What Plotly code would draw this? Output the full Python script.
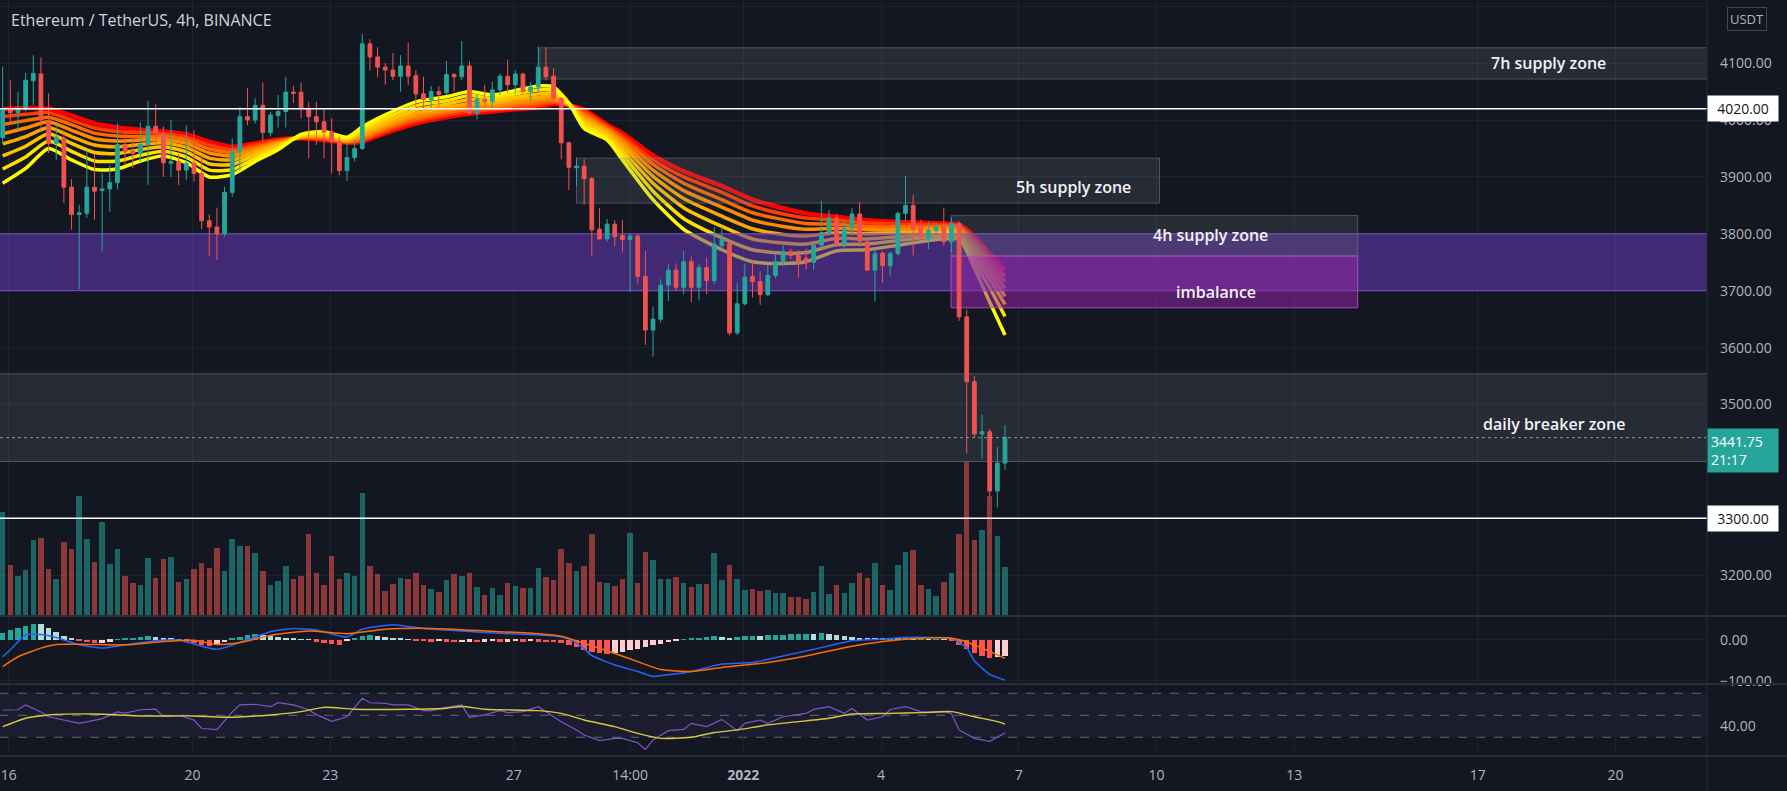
import plotly.graph_objects as go

# ---------------- data ----------------
opens = [3969, 4019, 4013, 4020, 4069, 4081, 3998, 3959, 3968, 3882,
         3834, 3836, 3882, 3876, 3879, 3890, 3957, 3946, 3941, 3957,
         3989, 3977, 3924, 3927, 3912, 3924, 3906, 3823, 3812, 3800,
         3873, 3944, 4006, 4000, 4026, 3978, 4008, 4015, 4049, 4049,
         4020, 4006, 3997, 3979, 3962, 3911, 3934, 3950, 4134, 4111,
         4093, 4088, 4077, 4095, 4078, 4046, 4036, 4050, 4048, 4080,
         4076, 4095, 4012, 4037, 4032, 4053, 4077, 4062, 4081, 4050,
         4058, 4093, 4077, 4038, 3960, 3916, 3919, 3897, 3808, 3791,
         3817, 3797, 3790, 3796, 3725, 3631, 3650, 3710, 3736, 3706,
         3751, 3706, 3741, 3718, 3779, 3783, 3626, 3677, 3725, 3716,
         3693, 3727, 3751, 3769, 3762, 3757, 3750, 3780, 3802, 3828,
         3782, 3810, 3835, 3786, 3736, 3766, 3744, 3765, 3836, 3850,
         3814, 3791, 3806, 3813, 3786, 3818, 3654, 3540, 3448, 3452,
         3348, 3397]
highs = [4094, 4070, 4050, 4083, 4114, 4110, 4047, 3991, 3982, 3896,
         3851, 3947, 3941, 3907, 3921, 3994, 3982, 3970, 3996, 4034,
         4028, 3989, 4000, 3941, 3991, 3982, 3938, 3834, 3846, 3883,
         3968, 4023, 4056, 4038, 4066, 4014, 4044, 4076, 4060, 4066,
         4032, 4032, 4018, 4003, 3971, 3959, 3965, 4151, 4142, 4128,
         4100, 4118, 4114, 4136, 4088, 4076, 4060, 4060, 4104, 4083,
         4139, 4104, 4044, 4062, 4067, 4081, 4106, 4088, 4083, 4067,
         4129, 4128, 4091, 4040, 3962, 3934, 3931, 3900, 3845, 3826,
         3824, 3824, 3801, 3800, 3770, 3672, 3720, 3748, 3748, 3770,
         3760, 3746, 3758, 3812, 3812, 3786, 3713, 3748, 3754, 3734,
         3745, 3764, 3780, 3774, 3771, 3774, 3783, 3858, 3842, 3835,
         3825, 3845, 3855, 3789, 3772, 3769, 3769, 3839, 3902, 3868,
         3825, 3822, 3820, 3846, 3829, 3822, 3667, 3550, 3482, 3457,
         3425, 3464]
lows = [3960, 3995, 3982, 4015, 4026, 3982, 3942, 3930, 3854, 3807,
        3703, 3828, 3825, 3769, 3839, 3878, 3921, 3915, 3927, 3886,
        3959, 3900, 3900, 3886, 3895, 3892, 3808, 3761, 3754, 3795,
        3865, 3912, 3991, 3994, 3962, 3971, 3987, 3987, 4030, 4003,
        3933, 3956, 3933, 3906, 3903, 3893, 3927, 3947, 4087, 4075,
        4062, 4070, 4050, 4062, 4023, 4018, 4018, 4023, 4044, 4050,
        4070, 4009, 4001, 4014, 4020, 4044, 4047, 4047, 4047, 4035,
        4050, 4070, 4030, 3931, 3877, 3884, 3851, 3760, 3790, 3786,
        3778, 3767, 3698, 3713, 3605, 3584, 3644, 3682, 3700, 3694,
        3680, 3683, 3694, 3712, 3775, 3622, 3622, 3674, 3688, 3675,
        3690, 3722, 3744, 3755, 3722, 3737, 3737, 3778, 3798, 3777,
        3772, 3797, 3777, 3736, 3681, 3714, 3727, 3762, 3822, 3762,
        3790, 3773, 3797, 3779, 3768, 3647, 3414, 3443, 3405, 3338,
        3319, 3385]
closes = [4019, 4013, 4020, 4070, 4082, 4000, 3959, 3970, 3882, 3834,
          3837, 3882, 3875, 3879, 3890, 3957, 3944, 3941, 3957, 3989,
          3977, 3925, 3927, 3912, 3924, 3906, 3823, 3812, 3800, 3873,
          3944, 4006, 4000, 4026, 3978, 4009, 4015, 4049, 4047, 4020,
          4006, 3997, 3979, 3962, 3911, 3934, 3950, 4134, 4111, 4093,
          4088, 4077, 4095, 4077, 4046, 4036, 4050, 4045, 4080, 4076,
          4095, 4012, 4037, 4032, 4053, 4077, 4062, 4081, 4050, 4058,
          4093, 4076, 4038, 3960, 3917, 3919, 3897, 3807, 3791, 3817,
          3795, 3790, 3796, 3725, 3631, 3650, 3710, 3736, 3706, 3751,
          3706, 3741, 3718, 3782, 3790, 3626, 3677, 3724, 3716, 3693,
          3727, 3751, 3769, 3762, 3750, 3750, 3780, 3802, 3828, 3782,
          3810, 3835, 3787, 3736, 3765, 3744, 3765, 3836, 3850, 3807,
          3795, 3806, 3813, 3786, 3818, 3654, 3540, 3448, 3452, 3348,
          3397, 3441.75]
volumes = [103, 50, 39, 45, 75, 77, 46, 36, 73, 66,
           119, 76, 53, 93, 51, 66, 39, 32, 30, 57,
           37, 56, 58, 33, 36, 46, 52, 47, 67, 44,
           76, 69, 69, 62, 44, 30, 34, 49, 36, 39,
           81, 42, 30, 59, 36, 42, 39, 122, 49, 41,
           24, 31, 37, 36, 42, 30, 26, 23, 35, 41,
           39, 42, 28, 20, 27, 20, 32, 29, 27, 27,
           47, 38, 35, 66, 52, 44, 49, 81, 33, 32,
           29, 36, 82, 32, 63, 55, 36, 36, 38, 32,
           28, 31, 31, 62, 35, 50, 36, 25, 26, 24,
           25, 22, 22, 18, 18, 16, 23, 49, 21, 30,
           22, 32, 42, 37, 52, 30, 25, 50, 63, 65,
           30, 26, 19, 33, 42, 81, 153, 75, 85, 119,
           79, 48]
macd_hist = [18, 24, 30, 35, 40, 38, 30, 20, 10, 3,
             -3, -6, -8, -7, -4, 2, 4, 6, 8, 9,
             8, 6, 4, 1, -4, -8, -12, -15, -12, -6,
             3, 8, 12, 14, 13, 10, 7, 5, 4, 2,
             1, -4, -8, -11, -12, -3, 6, 10, 11, 9,
             7, 5, 4, 2, -2, -3, -4, -3, -4, -6,
             -5, -4, -5, -4, -3, -4, -4, -3, -4, -3,
             -4, -5, -6, -8, -12, -18, -25, -30, -33, -34,
             -32, -29, -25, -21, -17, -13, -10, -6, -3, 2,
             4, 6, 7, 9, 8, 5, 7, 9, 10, 9,
             11, 12, 13, 14, 15, 15, 14, 16, 15, 12,
             10, 8, 6, 5, 4, 3, 4, 3, 3, 2,
             2, 1, 1, 0.5, -3, -12, -22, -32, -38, -45,
             -42, -38]
macd_idx = [0, 1, 3, 5, 7, 10, 13, 16, 20, 23, 25, 28, 31, 35, 38, 41, 45, 47, 51, 55,
            58, 63, 68, 72, 74, 75, 76, 77, 80, 83, 85, 87, 90, 94, 98, 102, 106, 111, 115, 118,
            121, 124, 126, 127, 129, 131]
macd_line = [-41, -24, 12, 13, 6, -12, -20, -12, -2, 0, -10, -23, -6, 20, 28, 24, 7, 26, 37, 28,
             24, 18, 14, 10, 2, -8, -22, -38, -61, -77, -89, -85, -77, -59, -55, -39, -23, -2, 2, 6,
             6, 4, -19, -51, -84, -98]
signal_idx = [0, 2, 5, 7, 11, 16, 21, 25, 28, 31, 35, 40, 45, 50, 56, 63, 70, 73, 76, 80,
              83, 86, 90, 94, 100, 105, 110, 115, 120, 124, 126, 129, 131]
signal_line = [-65, -41, -20, -11, -11, -12, -4, -1, -11, -6, 11, 22, 15, 26, 28, 22, 15, 9, -8, -33,
               -53, -72, -77, -67, -55, -39, -19, -4, 4, 4, -5, -28, -45]
rsi_idx = [0, 2, 3, 5, 6, 8, 10, 11, 13, 15, 16, 18, 20, 21, 23, 25, 26, 28, 30, 31,
           33, 35, 36, 38, 40, 41, 43, 45, 47, 48, 50, 51, 53, 55, 56, 58, 60, 61, 63, 65,
           66, 68, 70, 71, 73, 75, 76, 78, 80, 81, 83, 84, 85, 87, 89, 90, 92, 94, 96, 97,
           99, 100, 102, 105, 106, 108, 110, 111, 113, 115, 116, 118, 120, 121, 123, 124, 125, 127, 129, 130,
           131]
rsi_vals = [54.8, 55, 59.4, 53, 48.7, 45.7, 42.7, 44, 47, 53, 52, 55, 55.5, 49, 50, 45.7, 38, 37, 53, 59.4,
            60, 57.8, 61.4, 59.4, 55, 50.6, 44.5, 48.7, 65.4, 61.4, 60.9, 59.4, 59.4, 54.2, 54.2, 57.2, 59.4, 48.1, 50.3, 54.2,
            52.4, 53.3, 57.8, 53.3, 44.2, 36.7, 32.1, 27, 29, 29, 25, 19, 27.6, 36, 37.2, 42.7, 39.7, 46.3, 36, 42.7,
            45.7, 42.7, 48.7, 51.7, 55.3, 57.8, 51.7, 56.2, 45.7, 48.7, 55.3, 57.8, 53.3, 52.4, 53.3, 51.7, 36.7, 29, 26.3, 30,
            34]
rsi_ma_idx = [0, 3, 6, 12, 18, 25, 29, 35, 39, 42, 46, 53, 58, 60, 63, 70, 73, 76, 80, 83,
              86, 90, 93, 96, 100, 104, 108, 111, 116, 120, 124, 127, 130, 131]
rsi_ma_vals = [39.6, 47.3, 50.3, 51.2, 49.4, 49.4, 48.2, 50.3, 53.3, 57.2, 55.5, 55.5, 56.4, 58, 55.5, 54.2, 51.7, 45.7, 39.7, 33.6,
               29, 30, 34.3, 36.7, 41.3, 44.2, 47.3, 51.2, 51.7, 52.4, 53.3, 48.7, 44.2, 42]

# EMA ribbon (slow -> fast), sampled at candle indices
ribbon_idx = [0, 3, 6, 9, 12, 15, 18, 21, 24, 27, 30, 33, 36, 39, 42, 45, 47, 50, 54, 58,
              61, 64, 67, 70, 72, 74, 76, 79, 81, 85, 89, 94, 98, 102, 105, 109, 113, 117, 121, 125,
              127, 129, 131]
ema_1 = [4019, 4021, 4020, 4008, 3994, 3987, 3983, 3980, 3975, 3962, 3953, 3959, 3966, 3968, 3965, 3960, 3962, 3977, 3994, 4005,
         4011, 4015, 4019, 4022, 4028, 4026, 4018, 3992, 3977, 3938, 3910, 3884, 3860, 3845, 3836, 3830, 3824, 3821, 3819, 3816,
         3795, 3765, 3736]
ema_2 = [4006, 4010, 4013, 4000, 3986, 3980, 3978, 3976, 3970, 3956, 3948, 3956, 3964, 3969, 3967, 3961, 3965, 3980, 3998, 4009,
         4015, 4018, 4022, 4026, 4031, 4026, 4015, 3989, 3972, 3930, 3900, 3873, 3849, 3835, 3828, 3824, 3819, 3817, 3816, 3813,
         3790, 3757, 3726]
ema_3 = [3992, 3999, 4005, 3992, 3977, 3972, 3971, 3971, 3965, 3949, 3943, 3952, 3962, 3969, 3968, 3962, 3967, 3984, 4002, 4013,
         4019, 4021, 4026, 4030, 4034, 4027, 4011, 3986, 3967, 3922, 3889, 3860, 3837, 3825, 3818, 3817, 3813, 3812, 3812, 3811,
         3783, 3750, 3716]
ema_4 = [3976, 3986, 3997, 3982, 3967, 3963, 3965, 3966, 3959, 3942, 3937, 3948, 3960, 3970, 3970, 3963, 3971, 3988, 4007, 4017,
         4024, 4025, 4030, 4035, 4038, 4027, 4007, 3983, 3961, 3912, 3876, 3847, 3824, 3813, 3808, 3810, 3807, 3807, 3809, 3807,
         3777, 3741, 3704]
ema_5 = [3958, 3971, 3987, 3971, 3956, 3953, 3957, 3960, 3952, 3933, 3930, 3944, 3958, 3971, 3972, 3965, 3974, 3992, 4012, 4022,
         4029, 4029, 4035, 4040, 4042, 4028, 4002, 3979, 3955, 3901, 3862, 3831, 3809, 3799, 3796, 3802, 3800, 3802, 3804, 3804,
         3769, 3731, 3690]
ema_6 = [3937, 3954, 3976, 3959, 3943, 3941, 3948, 3953, 3944, 3923, 3922, 3939, 3955, 3972, 3974, 3966, 3978, 3997, 4018, 4028,
         4036, 4033, 4040, 4046, 4047, 4029, 3997, 3975, 3947, 3889, 3846, 3813, 3791, 3784, 3782, 3792, 3791, 3795, 3799, 3800,
         3760, 3720, 3676]
ema_7 = [3914, 3935, 3963, 3945, 3928, 3928, 3938, 3945, 3935, 3912, 3913, 3933, 3951, 3974, 3977, 3968, 3983, 4003, 4025, 4034,
         4043, 4038, 4046, 4053, 4052, 4029, 3991, 3970, 3939, 3875, 3827, 3793, 3772, 3766, 3767, 3781, 3782, 3788, 3794, 3795,
         3750, 3705, 3655]
ema_8 = [3889, 3915, 3950, 3930, 3913, 3914, 3928, 3937, 3925, 3900, 3904, 3927, 3948, 3975, 3980, 3970, 3988, 4009, 4032, 4041,
         4050, 4044, 4052, 4060, 4058, 4030, 3985, 3965, 3930, 3860, 3808, 3772, 3751, 3748, 3751, 3770, 3772, 3780, 3788, 3790,
         3740, 3680, 3622]

# drawn zones (candle index / price)
zone_names = ["range", "daily breaker zone", "7h supply zone", "5h supply zone", "4h supply zone", "imbalance"]
zone_x0 = [-2, -2, 70.2, 75.0, 123.95, 123.95]
zone_x1 = [240, 240, 240, 151.2, 177.1, 177.1]
zone_low = [3700, 3400, 4072, 3854, 3761, 3670]
zone_high = [3800, 3554, 4127, 3933, 3832, 3761]
zone_label_x = [None, 202.8, 202.0, 139.9, 157.9, 158.6]
zone_label_y = [None, 3465, 4100, 3882, 3798, 3697]

level_prices = [4020, 3300]
last_price = 3441.75
countdown = "21:17"

time_tick_pos = [0.8, 24.8, 42.8, 66.8, 82.0, 96.8, 114.8, 132.8, 150.8, 168.8, 192.8, 210.8]
time_tick_text = ["16", "20", "23", "27", "14:00", "<b>2022</b>", "4", "7", "10", "13", "17", "20"]
price_ticks = [3200, 3300, 3400, 3500, 3600, 3700, 3800, 3900, 4000, 4100, 4200]

# ---------------- styles ----------------
BG = "#131722"
GRID = "#1e222d"
TXT = "#b2b5be"
FONT = "Open Sans"
UP = "#26a69a"
DN = "#ef5350"
ribbon_colors = ["#ff0000", "#ff3d00", "#ff6a00", "#ff8c00", "#ffa800", "#ffc400", "#ffe000", "#ffff00"]
ribbon_widths = [4.5, 3.5, 3.5, 3.5, 3.5, 3.5, 3.5, 3.5]
zone_style = {
    "range": ("rgba(103,58,183,0.55)", "rgba(126,87,194,0.95)"),
    "daily breaker zone": ("rgba(120,123,134,0.2)", "rgba(140,143,154,0.45)"),
    "7h supply zone": ("rgba(120,123,134,0.2)", "rgba(140,143,154,0.45)"),
    "5h supply zone": ("rgba(120,123,134,0.2)", "rgba(140,143,154,0.45)"),
    "4h supply zone": ("rgba(120,123,134,0.2)", "rgba(140,143,154,0.45)"),
    "imbalance": ("rgba(156,39,176,0.5)", "rgba(186,80,200,0.85)"),
}

idx = list(range(len(closes)))
is_up = [c >= o for o, c in zip(opens, closes)]

fig = go.Figure()

# ribbon (base layer)
ribbon = [ema_1, ema_2, ema_3, ema_4, ema_5, ema_6, ema_7, ema_8]
for vals, col, w in zip(ribbon, ribbon_colors, ribbon_widths):
    fig.add_trace(go.Scatter(x=ribbon_idx, y=vals, mode="lines",
                             line=dict(color=col, width=w, shape="spline", smoothing=0.6),
                             xaxis="x", yaxis="y", hoverinfo="skip", showlegend=False))

# zones drawn over the ribbon
for name, x0, x1, lo, hi in zip(zone_names, zone_x0, zone_x1, zone_low, zone_high):
    fill, edge = zone_style[name]
    fig.add_trace(go.Scatter(x=[x0, x1, x1, x0, x0], y=[lo, lo, hi, hi, lo], mode="lines",
                             fill="toself", fillcolor=fill, line=dict(color=edge, width=1),
                             xaxis="x", yaxis="y", hoverinfo="skip", showlegend=False))

# volume (overlay)
vol_colors = ["rgba(38,166,154,0.55)" if u else "rgba(239,83,80,0.55)" for u in is_up]
fig.add_trace(go.Bar(x=idx, y=volumes, marker=dict(color=vol_colors, line=dict(width=0)),
                     width=0.72, xaxis="x", yaxis="y2", hoverinfo="skip", showlegend=False))

# candles (top overlay)
fig.add_trace(go.Candlestick(x=idx, open=opens, high=highs, low=lows, close=closes,
                             increasing=dict(line=dict(color=UP, width=1), fillcolor=UP),
                             decreasing=dict(line=dict(color=DN, width=1), fillcolor=DN),
                             whiskerwidth=0, xaxis="x", yaxis="y3", showlegend=False, hoverinfo="skip"))

# MACD
hist_colors = []
for i, h in enumerate(macd_hist):
    prev = macd_hist[i - 1] if i > 0 else h
    if h >= 0:
        hist_colors.append("#26a69a" if h >= prev else "#b2dfdb")
    else:
        hist_colors.append("#ff5252" if h < prev else "#ffcdd2")
fig.add_trace(go.Bar(x=idx, y=macd_hist, marker=dict(color=hist_colors, line=dict(width=0)),
                     width=0.72, xaxis="x2", yaxis="y4", hoverinfo="skip", showlegend=False))
fig.add_trace(go.Scatter(x=macd_idx, y=macd_line, mode="lines",
                         line=dict(color="#2962ff", width=1.5, shape="spline", smoothing=0.5),
                         xaxis="x2", yaxis="y4", hoverinfo="skip", showlegend=False))
fig.add_trace(go.Scatter(x=signal_idx, y=signal_line, mode="lines",
                         line=dict(color="#ff6d00", width=1.5, shape="spline", smoothing=0.5),
                         xaxis="x2", yaxis="y4", hoverinfo="skip", showlegend=False))

# RSI
fig.add_trace(go.Scatter(x=rsi_idx, y=rsi_vals, mode="lines", line=dict(color="#7e57c2", width=1.2),
                         xaxis="x3", yaxis="y5", hoverinfo="skip", showlegend=False))
fig.add_trace(go.Scatter(x=rsi_ma_idx, y=rsi_ma_vals, mode="lines",
                         line=dict(color="#d9c93f", width=1.4, shape="spline", smoothing=0.6),
                         xaxis="x3", yaxis="y5", hoverinfo="skip", showlegend=False))

XR = [-0.35, 222.75]
tickfont = dict(family=FONT, size=14, color=TXT)
xcommon = dict(range=XR, tickvals=time_tick_pos, showgrid=True, gridcolor=GRID, gridwidth=1,
               zeroline=False, showline=False, ticks="", fixedrange=True)
fig.update_layout(
    width=1787, height=791, paper_bgcolor=BG, plot_bgcolor=BG,
    margin=dict(l=0, r=80, t=0, b=35),
    showlegend=False, bargap=0, hovermode=False,
    xaxis=dict(domain=[0, 1], anchor="y", showticklabels=False, rangeslider=dict(visible=False), **xcommon),
    xaxis2=dict(domain=[0, 1], anchor="y4", matches="x", showticklabels=False, **xcommon),
    xaxis3=dict(domain=[0, 1], anchor="y5", matches="x", showticklabels=True,
                ticktext=time_tick_text, tickfont=tickfont, ticklabelstandoff=9, **xcommon),
    yaxis=dict(domain=[0.1865, 1], range=[3130, 4211], side="right", anchor="x",
               tickvals=price_ticks, ticktext=[f"{p:.2f}" for p in price_ticks], tickfont=tickfont,
               showgrid=True, gridcolor=GRID, zeroline=False, ticks="", ticklabelstandoff=12, fixedrange=True),
    yaxis2=dict(overlaying="y", anchor="x", range=[0, 615], visible=False, showgrid=False, fixedrange=True),
    yaxis3=dict(overlaying="y", anchor="x", range=[3130, 4211], visible=False, showgrid=False, fixedrange=True),
    yaxis4=dict(domain=[0.0966, 0.1839], range=[-105, 56], side="right", anchor="x2",
                tickvals=[0, -100], ticktext=["0.00", "\u2212100.00"], tickfont=tickfont,
                showgrid=True, gridcolor=GRID, zeroline=False, ticks="", ticklabelstandoff=12, fixedrange=True),
    yaxis5=dict(domain=[0, 0.0939], range=[13, 77.5], side="right", anchor="x3",
                tickvals=[40], ticktext=["40.00"], tickfont=tickfont,
                showgrid=False, zeroline=False, ticks="", ticklabelstandoff=12, fixedrange=True),
)

shapes = []
# RSI band and levels
shapes.append(dict(type="rect", xref="paper", x0=0, x1=1, yref="y5", y0=30, y1=70,
                   fillcolor="rgba(126,87,194,0.09)", line=dict(width=0), layer="below"))
for lv in [70, 50, 30]:
    shapes.append(dict(type="line", xref="paper", x0=0, x1=1, yref="y5", y0=lv, y1=lv,
                       line=dict(color="rgba(150,153,164,0.6)", width=1, dash="dash"), layer="below"))
# level lines
for p in level_prices:
    shapes.append(dict(type="line", xref="paper", x0=0, x1=1, yref="y", y0=p, y1=p,
                       line=dict(color="#ffffff", width=1.5), layer="above"))
shapes.append(dict(type="line", xref="paper", x0=0, x1=1, yref="y", y0=last_price, y1=last_price,
                   line=dict(color="rgba(170,180,185,0.75)", width=1, dash="dot"), layer="above"))
# pane separators and axis border
for yp in [(756 - 616) / 756, (756 - 684) / 756, 0]:
    shapes.append(dict(type="line", xref="paper", x0=0, x1=1787 / 1707, yref="paper", y0=yp, y1=yp,
                       line=dict(color="#2a2e39", width=2), layer="above"))
shapes.append(dict(type="line", xref="paper", x0=1, x1=1, yref="paper", y0=-35 / 756, y1=1,
                   line=dict(color="#2a2e39", width=1), layer="above"))
fig.update_layout(shapes=shapes)

ann = []
ann.append(dict(text="Ethereum / TetherUS, 4h, BINANCE", xref="paper", yref="paper", x=0, y=1,
                xanchor="left", yanchor="middle", xshift=9, yshift=-20, showarrow=False,
                font=dict(family=FONT, size=16, color="#d1d4dc")))
for name, lx, ly in zip(zone_names, zone_label_x, zone_label_y):
    if lx is None:
        continue
    ann.append(dict(text=name, x=lx, y=ly, xref="x", yref="y", showarrow=False,
                    font=dict(family=FONT, size=16, color="#f2f2f5", weight=600)))
for p in level_prices:
    ann.append(dict(text=f"{p:.2f}", xref="paper", x=1, xanchor="left", yref="y", y=p, yanchor="middle",
                    showarrow=False, bgcolor="#ffffff", width=64, align="center", borderpad=3,
                    font=dict(family=FONT, size=14, color="#131722")))
ann.append(dict(text=f"{last_price:.2f}<br>{countdown}", xref="paper", x=1, xanchor="left", yref="y",
                y=last_price, yanchor="top", yshift=10, showarrow=False, bgcolor=UP, width=64,
                align="left", borderpad=3, font=dict(family=FONT, size=14, color="#ffffff")))
ann.append(dict(text="USDT", xref="paper", x=1747 / 1707, xanchor="center", yref="paper",
                y=(756 - 19) / 756, yanchor="middle", showarrow=False, bgcolor=BG,
                bordercolor="#434651", borderwidth=1, borderpad=2,
                font=dict(family=FONT, size=13, color=TXT)))
fig.update_layout(annotations=ann)

fig.write_html("out.html", config={"displayModeBar": False})
